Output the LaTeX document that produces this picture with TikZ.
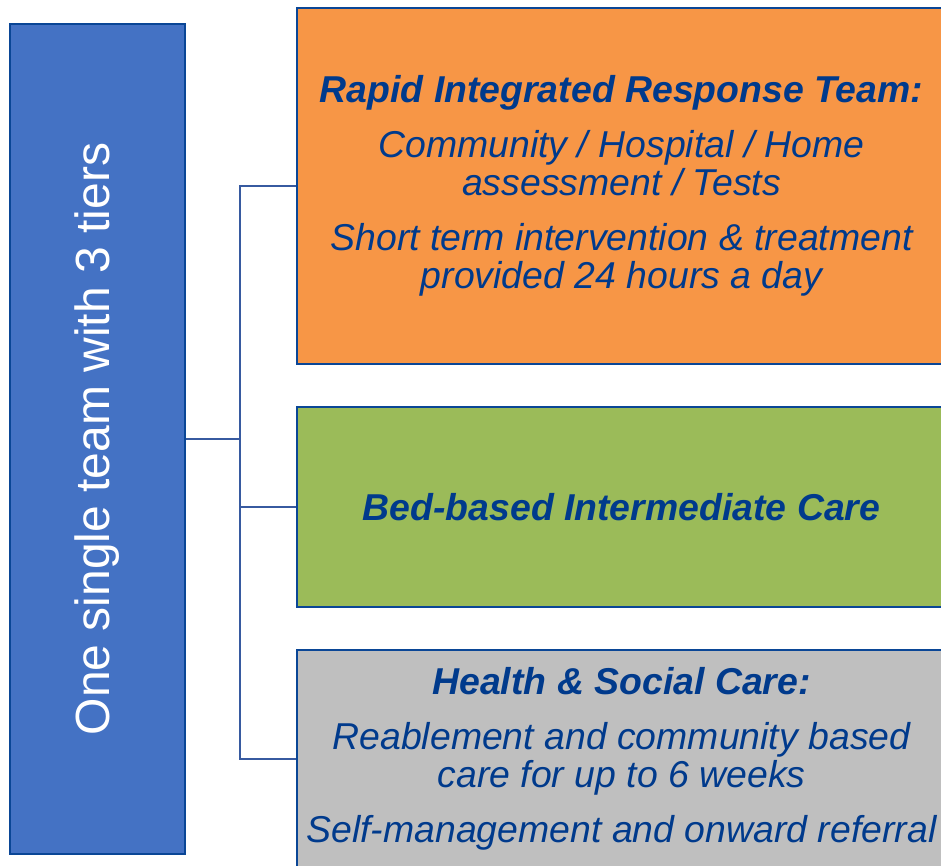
\documentclass[tikz,border=0pt]{standalone}
\usepackage{fontspec}
\setmainfont{Liberation Sans}
\definecolor{teamblue}{RGB}{68,114,196}
\definecolor{tierorange}{RGB}{247,150,70}
\definecolor{tiergreen}{RGB}{155,187,89}
\definecolor{tiergray}{RGB}{191,191,191}
\definecolor{edgeblue}{RGB}{10,70,150}
\definecolor{linkblue}{RGB}{55,90,160}
\definecolor{inkblue}{RGB}{0,58,140}
\tikzset{
  tierbox/.style={draw=edgeblue, line width=2.6pt, rectangle, inner sep=0pt,
    minimum width=649pt, text=inkblue, align=center,
    font=\fontsize{37.4}{38}\selectfont\itshape},
  conn/.style={draw=linkblue, line width=2.4pt}
}
\begin{document}
\begin{tikzpicture}[x=1pt,y=-1pt]
\useasboundingbox (0,0) rectangle (941,866);
\clip (0,0) rectangle (941,866);

% left column: the single team
\node[draw=edgeblue, line width=2.6pt, fill=teamblue, rectangle, inner sep=0pt,
      minimum width=175pt, minimum height=830pt] (team) at (97.5,439) {};
\node[rotate=90, text=white, font=\fontsize{48}{50}\selectfont] (teamlabel)
      at (team.center) {One single team with 3 tiers};

% the three tiers
\node[tierbox, fill=tierorange, minimum height=356pt] (rirt) at (621.5,186)
  {{\bfseries Rapid Integrated Response Team:}\\[17pt]
   Community / Hospital / Home\\assessment / Tests\\[17pt]
   Short term intervention \& treatment\\provided 24 hours a day};
\node[tierbox, fill=tiergreen, minimum height=200pt] (bed) at (621.5,507)
  {{\bfseries Bed-based Intermediate Care}};
\node[tierbox, fill=tiergray, minimum height=218pt] (hsc) at (621.5,759)
  {{\bfseries Health \& Social Care:}\\[17pt]
   Reablement and community based\\care for up to 6 weeks\\[17pt]
   Self-management and onward referral};

% tree connectors
\coordinate (spine) at (240,0);
\draw[conn] (team.east) -- (team.east -| spine);
\draw[conn] (rirt.west) -- (rirt.west -| spine) -- (hsc.west -| spine) -- (hsc.west);
\draw[conn] (bed.west) -- (bed.west -| spine);
\end{tikzpicture}
\end{document}
